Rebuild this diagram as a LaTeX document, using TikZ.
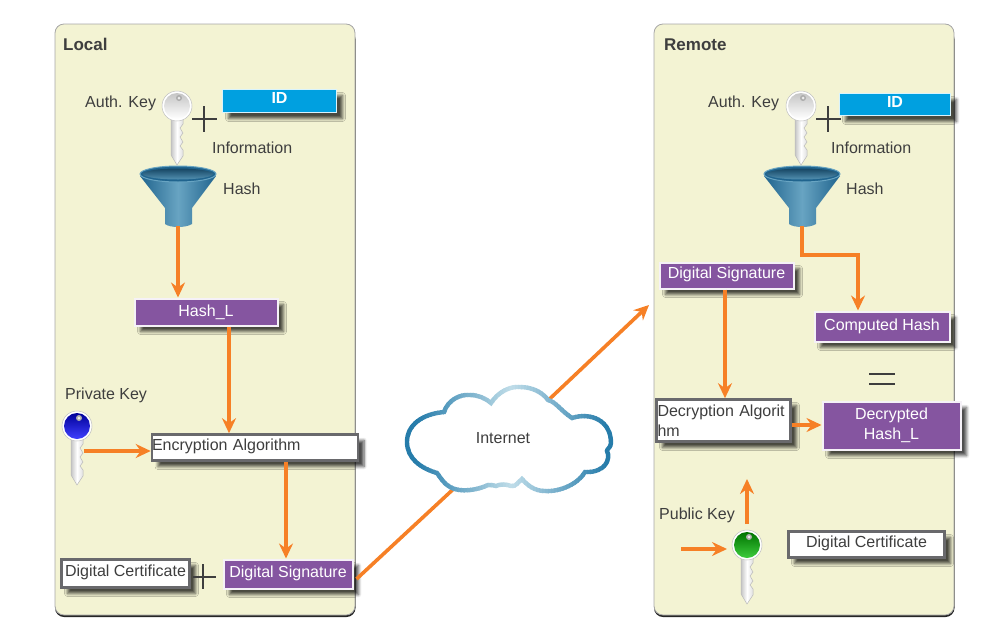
\documentclass[tikz,border=0pt]{standalone}
\usepackage{fontspec}
\setmainfont{Liberation Sans}
\usetikzlibrary{arrows.meta,shadows.blur}

\definecolor{panelfill}{RGB}{243,243,211}
\definecolor{flowor}{RGB}{246,128,38}
\definecolor{purplefill}{RGB}{133,85,160}
\definecolor{idblue}{RGB}{0,160,224}
\definecolor{boxgray}{RGB}{105,105,108}
\definecolor{inkgray}{RGB}{62,62,62}
\definecolor{funneldark}{RGB}{32,100,142}
\definecolor{funnellight}{RGB}{104,164,194}
\definecolor{clouddark}{RGB}{38,124,170}
\definecolor{cloudpale}{RGB}{192,221,233}

\tikzset{
  panel/.style={fill=panelfill,draw=gray!70,line width=.8pt,rounded corners=9pt},
  txt/.style={text=inkgray,font=\fontsize{16}{19}\selectfont,inner sep=0pt,anchor=west},
  boxshadow/.style={blur shadow={shadow xshift=6pt,shadow yshift=-6pt,shadow blur steps=6,shadow blur radius=3pt,shadow opacity=70}},
  whitebox/.style={draw=boxgray,line width=2.6pt,fill=white,text=inkgray,inner sep=0pt,align=center,
    font=\fontsize{16}{20}\selectfont,boxshadow},
  purplebox/.style={draw=white!92!purplefill,line width=2pt,fill=purplefill,text=white,inner sep=0pt,align=center,
    font=\fontsize{16}{20}\selectfont,boxshadow},
  idbox/.style={draw=cyan!15,line width=1.6pt,fill=idblue,text=white,inner sep=0pt,
    font=\fontsize{16}{19}\selectfont\bfseries,boxshadow},
  flow/.style={draw=flowor,line width=3.6pt,-{Stealth[length=15pt,width=14pt,inset=5pt]}},
  flowline/.style={draw=flowor,line width=3.6pt},
  plusbar/.style={draw=inkgray,line width=1.2pt},
  pics/keyshape/.style n args={2}{code={
    \shade[left color=gray!45,right color=gray!25,middle color=white,draw=gray!55,line width=.5pt]
      (-6,10) -- (-6,49) -- (0,59) -- (6,50) -- (6,44) -- (3,40) -- (6,36) -- (3,31) -- (6,27) -- (3,22) -- (6,18) -- (6,10) -- cycle;
    \fill[white,draw=gray!50,line width=.5pt] (0,0) circle (15);
    \shade[top color=#1,bottom color=#2] (0,0) circle (13);
    \fill[gray!65] (2,-8) circle (3);
    \fill[white!85!gray] (2,-8) circle (1.5);}},
  pics/funnelshape/.style={code={
    \shade[left color=funneldark,right color=funneldark,middle color=funnellight]
      (-38,2) -- (-13,34) -- (-13,50) .. controls (-8,54) and (8,54) .. (14,50) -- (14,34) -- (38,2) -- cycle;
    \fill[funneldark,draw=funnellight,line width=1pt] (0,0) ellipse (38 and 8);
    \shade[top color=funneldark!70!black,bottom color=funnellight!70!funneldark] (0,0) ellipse (35 and 5.5);}}
}

\newcommand{\cloudpath}{(437,473)
  .. controls (420,468) and (407,458) .. (407,442)
  .. controls (407,425) and (422,414) .. (444,412)
  .. controls (448,400) and (460,394) .. (470,395)
  .. controls (478,395) and (485,398) .. (491,403)
  .. controls (498,392) and (510,386) .. (520,387)
  .. controls (533,387) and (543,393) .. (548,400)
  .. controls (556,402) and (560,410) .. (572,418)
  .. controls (590,412) and (611,420) .. (611,443)
  .. controls (611,447) and (607,449) .. (607,451)
  .. controls (611,458) and (606,473) .. (585,472)
  .. controls (578,484) and (560,492) .. (545,491)
  .. controls (535,491) and (528,486) .. (522,479)
  .. controls (518,482) and (516,487) .. (511,486)
  .. controls (506,484) and (500,484) .. (496,486)
  .. controls (493,486) and (491,484) .. (488,485)
  .. controls (478,490) and (460,493) .. (450,487)
  .. controls (444,484) and (440,477) .. (437,473) -- cycle}

\begin{document}
\begin{tikzpicture}[x=1pt,y=-1pt]
\useasboundingbox (0,0) rectangle (983,635);

% panels
\fill[black!85,rounded corners=9pt] (55,30) rectangle (355.5,617);
\draw[panel] (55,24) rectangle (355,615);
\fill[black!85,rounded corners=9pt] (654,30) rectangle (954.5,617);
\draw[panel] (654,24) rectangle (954,615);

\node[txt,font=\fontsize{17}{19}\selectfont\bfseries] (localT) at (63,44) {Local};
\node[txt,font=\fontsize{17}{19}\selectfont\bfseries] (remoteT) at (664,45) {Remote};

% left side
\node[txt] (authL) at (85,103) {Auth. Key};
\node[txt] (infoL) at (212,148) {Information};
\node[txt] (hashT) at (223,189) {Hash};
\node[txt] (privT) at (65,395) {Private Key};
\node[idbox,minimum width=114pt,minimum height=23pt,text depth=6pt] (idL) at (279.5,101) {ID};
\node[purplebox,minimum width=143pt,minimum height=27pt,text depth=3pt] (hashL) at (206,312) {Hash\_L};
\node[whitebox,minimum height=26pt,text width=206pt,align=left,text depth=6pt] (encL) at (255,447.5) {Encryption Algorithm};
\node[purplebox,minimum width=129pt,minimum height=29pt,text depth=4pt] (sigL) at (288,574) {Digital Signature};
\node[whitebox,minimum width=128pt,minimum height=28pt,text depth=6pt] (certL) at (125.5,573.5) {Digital Certificate};

\draw[plusbar] (192,119)--(217,119);
\draw[plusbar] (204,106)--(204,132);
\draw[plusbar] (193,577)--(216,577);
\draw[plusbar] (203,564)--(203,589);

\pic at (177,106) {keyshape={gray!45}{white}};
\pic at (178,174) {funnelshape};
\pic at (77,426) {keyshape={blue!60!black}{blue!75!white}};

\coordinate (funnelL) at (178,226);
\coordinate (privL) at (84,451);
\draw[flow] (funnelL)--(funnelL |- hashL.north);
\draw[flow] ([xshift=23pt]hashL.south)--([xshift=23pt]hashL.south |- encL.north);
\draw[flow] (privL)--(privL -| encL.west);
\draw[flow] ([xshift=31pt]encL.south)--([xshift=31pt]encL.south |- sigL.north);

% right side
\node[txt] (authR) at (708,103) {Auth. Key};
\node[txt] (infoR) at (831,148) {Information};
\node[txt] (hashR) at (846,189) {Hash};
\node[txt] (pubT) at (659,515) {Public Key};
\node[idbox,minimum width=111pt,minimum height=22pt,text depth=6pt] (idR) at (895,104.5) {ID};
\node[purplebox,minimum width=134pt,minimum height=26pt,text depth=6pt] (sigR) at (726.5,275.5) {Digital Signature};
\node[purplebox,minimum width=135pt,minimum height=30pt,text depth=4pt] (compR) at (882,326.5) {Computed Hash};
\node[whitebox,minimum width=134pt,minimum height=42pt,text width=132pt,align=left] (decR) at (723.5,420.5) {Decryption Algorit\\hm};
\node[purplebox,minimum width=138pt,minimum height=48pt] (hashD) at (891.5,425.5) {Decrypted\\Hash\_L};
\node[whitebox,minimum width=156pt,minimum height=26pt,text depth=6pt] (certR) at (866.5,544.5) {Digital Certificate};

\draw[plusbar] (816,119)--(841,119);
\draw[plusbar] (828,106)--(828,132);
\draw[plusbar] (869,374)--(895,374);
\draw[plusbar] (869,384)--(895,384);

\pic at (801,106) {keyshape={gray!45}{white}};
\pic at (802,174) {funnelshape};
\pic at (747,545) {keyshape={green!45!black}{green!70!white!80!black}};

\coordinate (funnelR) at (802,226);
\coordinate (bendR) at (858,255);
\coordinate (keyUp) at (747,524);
\coordinate (keyUpEnd) at (747,479);
\coordinate (keyIn) at (681,549);
\coordinate (keyInEnd) at (727,549);
\draw[flow] (funnelR)|-(bendR)--(bendR |- compR.north);
\draw[flow] (sigR.south -| 725,0)--(decR.north -| 725,0);
\draw[flow] (decR.east |- 0,425)--(hashD.west |- 0,425);
\draw[flow] (keyUp)--(keyUpEnd);
\draw[flow] (keyIn)--(keyInEnd);

% internet
\coordinate (net) at (503,443);
\coordinate (remoteIn) at (649,305);
\draw[flowline] ([xshift=3pt,yshift=-5pt]sigL.east)--(net);
\draw[flow] (net)--(remoteIn);
\fill[white] \cloudpath;
\foreach \x in {404,407,...,614}{% stripes, so the outline goes pale towards the middle
    \pgfmathsetmacro{\shadeval}{100*min(1,abs(\x-510)/95)}
    \begin{scope}
    \clip (\x,370) rectangle (\x+3.5,510);
    \draw[line width=4.4pt,draw=clouddark!\shadeval!cloudpale] \cloudpath;
    \end{scope}}
\node[txt,anchor=center] (inet) at (503,438) {Internet};

\end{tikzpicture}
\end{document}
